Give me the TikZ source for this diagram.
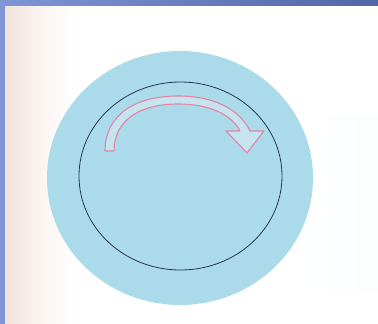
\documentclass[tikz,border=0pt]{standalone}
\usetikzlibrary{shapes.geometric}
\begin{document}
\begin{tikzpicture}[x=1pt,y=-1pt]
\definecolor{frameL}{HTML}{8095D5}
\definecolor{frameR}{HTML}{5266A6}
\definecolor{peach}{HTML}{F1E3DD}
\definecolor{disc}{HTML}{ABDBEA}
\definecolor{rim}{HTML}{26364F}
\definecolor{arrowpink}{HTML}{E483A2}
\definecolor{arrowfill}{HTML}{C6E4F0}
\useasboundingbox (0,0) rectangle (378,324);
\fill[white] (0,0) rectangle (378,324);
\shade[left color=peach, right color=white, middle color=peach!40!white] (5,5) rectangle (75,324);
\shade[left color=white, right color=white!96!disc] (300,115) rectangle (378,290);
\shade[left color=frameL, right color=frameR] (0,0) rectangle (378,5);
\fill[frameL] (0,0) rectangle (5,324);
\node[ellipse, minimum width=266pt, minimum height=254pt, fill=disc, inner sep=0pt] (outer) at (180,178) {};
\node[ellipse, minimum width=203pt, minimum height=188pt, draw=rim, line width=0.8pt, inner sep=0pt] (inner) at (180.5,176) {};
\draw[arrowpink, line width=1.1pt, fill=arrowfill, line join=round]
  (105,151) .. controls (105,115) and (135,96) .. (178,96)
  .. controls (215,96) and (240,110) .. (250,131)
  -- (264,131) -- (247,153) -- (226,131) -- (240,131)
  .. controls (232,115) and (210,104) .. (178,104)
  .. controls (140,104) and (114,120) .. (114,151) -- cycle;
\end{tikzpicture}
\end{document}
